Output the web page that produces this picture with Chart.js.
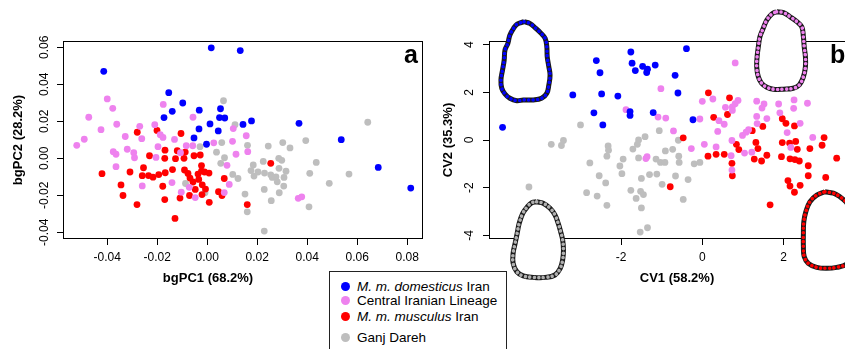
<!DOCTYPE html>
<html>
<head>
<meta charset="utf-8">
<script src="https://cdn.jsdelivr.net/npm/chart.js@4.4.1/dist/chart.umd.min.js"></script>
<style>
  html, body { margin: 0; padding: 0; background: #fff; }
  body {
    width: 845px; height: 349px; overflow: hidden; position: relative;
    font-family: 'Liberation Sans', Arial, sans-serif; color: #000;
  }
  canvas { position: absolute; top: 0; }
  #cvA { left: 0; }
  #cvB { left: 430px; }
  .xtitle {
    position: absolute; top: 270px; font-size: 13px; font-weight: bold;
    white-space: nowrap; transform: translateX(-50%); line-height: 15px;
  }
  .tag { position: absolute; top: 42px; font-size: 25px; font-weight: bold; line-height: 25px; }
  #legend {
    position: absolute; left: 329px; top: 271px; width: 176px; height: 100px;
    border: 1px solid #222; background: #fff; z-index: 2;
  }
  .item {
    position: absolute; left: 11px; height: 16px; display: flex; align-items: center;
    font-size: 13.5px; white-space: nowrap;
  }
  .dot { width: 9px; height: 9px; border-radius: 50%; margin-right: 7px; flex: none; }
</style>
</head>
<body>
<canvas id="cvA" width="430" height="300"></canvas>
<canvas id="cvB" width="425" height="300"></canvas>

<div class="xtitle" style="left:208px">bgPC1 (68.2%)</div>
<div class="xtitle" style="left:677px">CV1 (58.2%)</div>
<div class="tag" style="left:404px">a</div>
<div class="tag" style="left:830px">b</div>

<div id="legend">
  <div class="item" style="top:6px"><span class="dot" style="background:#0000ff"></span><span><i>M. m. domesticus</i> Iran</span></div>
  <div class="item" style="top:20.7px"><span class="dot" style="background:#ee82ee"></span><span>Central Iranian Lineage</span></div>
  <div class="item" style="top:36.7px"><span class="dot" style="background:#ff0000"></span><span><i>M. m. musculus</i> Iran</span></div>
  <div class="item" style="top:57.7px"><span class="dot" style="background:#bebebe"></span><span>Ganj Dareh</span></div>
</div>

<script>
// ── Groups ────────────────────────────────────────────────────
const groups  = ['M. m. domesticus Iran', 'Central Iranian Lineage', 'M. m. musculus Iran', 'Ganj Dareh'];
const colours = ['#0000ff', '#ee82ee', '#ff0000', '#bebebe'];

// ── Panel a: bgPCA scores [bgPC1, bgPC2] ──────────────────────
const bgDom = [
  [-0.0414,0.0470],[0.0016,0.0597],[0.0132,0.0582],[-0.0154,0.0355],[-0.0098,0.0299],[-0.0140,0.0254],
  [-0.0032,0.0260],[-0.0173,0.0220],[0.0053,0.0268],[0.0049,0.0220],[0.0070,0.0218],[0.0011,0.0186],
  [-0.0033,0.0159],[0.0044,0.0148],[0.0143,0.0183],[0.0177,0.0202],[-0.0053,0.0110],[-0.0003,0.0076],
  [0.0367,0.0189],[0.0536,0.0101],[0.0684,-0.0049],[0.0814,-0.0161]
];
const bgCil = [
  [-0.0400,0.0321],[-0.0378,0.0270],[-0.0474,0.0222],[-0.0362,0.0184],[-0.0425,0.0155],[-0.0492,0.0103],
  [-0.0522,0.0070],[-0.0328,0.0118],[-0.0270,0.0173],[-0.0262,0.0106],[-0.0176,0.0291],[-0.0057,0.0222],
  [-0.0210,0.0182],[-0.0177,0.0113],[-0.0188,0.0128],[-0.0131,0.0102],[-0.0084,0.0068],[-0.0058,0.0068],
  [0.0026,0.0084],[0.0101,0.0092],[0.0104,0.0161],[0.0156,0.0122],[-0.0320,0.0049],[-0.0294,0.0030],
  [-0.0291,0.0003],[-0.0376,0.0036],[-0.0365,0.0022],[-0.0365,-0.0045],[-0.0197,0.0063],[-0.0107,0.0030],
  [-0.0205,0.0005],[0.0115,0.0022],[0.0162,0.0036],[0.0079,-0.0038],[-0.0260,-0.0149],[-0.0141,-0.0131],
  [-0.0104,-0.0183],[-0.0072,-0.0157],[-0.0048,-0.0212],[0.0068,-0.0185],[0.0088,-0.0141],[0.0364,-0.0216],
  [0.0378,-0.0208]
];
const bgMus = [
  [-0.0280,0.0141],[-0.0201,0.0151],[-0.0105,0.0134],[-0.0169,0.0044],[-0.0120,0.0041],[-0.0088,0.0034],
  [-0.0231,0.0014],[-0.0170,0.0000],[-0.0127,-0.0002],[-0.0093,0.0000],[-0.0053,0.0014],[-0.0028,0.0018],
  [-0.0255,-0.0051],[-0.0309,-0.0074],[-0.0421,-0.0083],[-0.0260,-0.0094],[-0.0235,-0.0093],[-0.0217,-0.0102],
  [-0.0194,-0.0088],[-0.0168,-0.0078],[-0.0139,-0.0061],[-0.0091,-0.0063],[-0.0077,-0.0082],[-0.0023,-0.0039],
  [-0.0023,-0.0069],[-0.0011,-0.0074],[0.0007,-0.0080],[-0.0037,-0.0085],[-0.0069,-0.0107],[-0.0057,-0.0128],
  [-0.0034,-0.0114],[0.0068,-0.0109],[-0.0020,-0.0143],[-0.0007,-0.0166],[-0.0048,-0.0168],[-0.0178,-0.0151],
  [-0.0345,-0.0144],[0.0045,-0.0180],[-0.0337,-0.0201],[-0.0109,-0.0215],[-0.0071,-0.0201],[-0.0021,-0.0196],
  [0.0059,-0.0201],[-0.0170,-0.0223],[0.0008,-0.0238],[-0.0281,-0.0250],[0.0160,-0.0250],[-0.0129,-0.0325],
  [0.0254,-0.0027]
];
const bgGanj = [
  [0.0065,0.0311],[0.0111,0.0182],[0.0642,0.0195],[0.0058,0.0085],[0.0161,0.0070],[0.0244,0.0066],
  [0.0302,0.0085],[0.0331,0.0056],[0.0394,0.0096],[-0.0029,0.0063],[0.0037,0.0033],[0.0069,0.0003],
  [0.0054,-0.0027],[0.0184,-0.0036],[0.0224,-0.0017],[0.0286,0.0000],[0.0298,-0.0011],[0.0287,-0.0054],
  [0.0315,-0.0070],[0.0436,-0.0022],[0.0410,-0.0081],[0.0567,-0.0085],[0.0175,-0.0066],[0.0187,-0.0096],
  [0.0203,-0.0074],[0.0229,-0.0080],[0.0254,-0.0089],[0.0260,-0.0103],[0.0275,-0.0100],[0.0280,-0.0127],
  [0.0307,-0.0103],[0.0306,-0.0150],[0.0288,-0.0186],[0.0102,-0.0087],[0.0123,-0.0109],[0.0488,-0.0135],
  [-0.0087,-0.0136],[-0.0009,-0.0186],[0.0151,-0.0193],[0.0160,-0.0289],[0.0228,-0.0168],[0.0256,-0.0229],
  [0.0407,-0.0262],[0.0228,-0.0393]
];

// ── Panel b: CVA scores [CV1, CV2] ────────────────────────────
const cvDom = [
  [-4.92,0.53],[-3.19,1.89],[-2.61,3.33],[-2.52,2.82],[-2.48,1.93],[-2.67,1.14],[-2.45,0.63],[-2.08,1.84],
  [-1.78,1.19],[-1.78,1.03],[-1.76,3.69],[-1.73,3.22],[-1.65,2.91],[-1.47,3.09],[-1.35,2.97],[-1.37,2.83],
  [-1.16,3.14],[-1.21,1.15],[-0.39,3.83],[-0.67,2.71],[-0.60,1.97],[-0.23,0.85]
];
const cvCil = [
  [-1.88,1.27],[-1.02,2.15],[-1.09,0.96],[-0.90,0.92],[0.81,3.23],[-0.06,0.88],[-0.71,0.38],[-0.27,-0.36],
  [0.05,-0.18],[0.34,-0.29],[0.00,1.62],[0.26,1.72],[0.88,1.66],[0.57,1.37],[0.74,1.39],[0.81,1.52],
  [0.74,1.24],[0.41,0.81],[0.54,0.66],[0.38,0.36],[0.73,-0.02],[0.99,0.19],[1.08,0.33],[1.14,0.43],
  [1.34,1.63],[1.52,1.51],[1.47,1.34],[1.88,1.51],[2.26,1.68],[2.59,1.54],[2.25,1.33],[1.91,1.14],
  [1.34,0.99],[1.59,0.90],[1.35,0.69],[2.09,0.31],[2.41,0.70],[2.18,-0.31],[2.72,0.11],[-1.36,-0.70],
  [-1.39,-0.78],[0.71,-0.66],[0.73,-1.26],[1.04,-0.55],[1.22,-0.51]
];
const cvMus = [
  [0.15,1.98],[0.67,1.77],[0.62,1.07],[0.28,0.95],[-0.47,0.09],[-0.79,-1.96],[0.14,-0.68],[0.34,-0.60],
  [0.54,-0.60],[0.73,-0.98],[0.74,-1.50],[0.84,-0.18],[0.90,-0.40],[1.28,-0.80],[1.46,-0.88],[1.59,-0.64],
  [1.32,-0.10],[1.37,-0.36],[1.23,0.39],[1.49,0.57],[1.97,0.89],[2.06,0.70],[2.27,0.59],[1.97,-0.11],
  [2.15,-0.13],[2.30,-0.06],[2.34,-0.39],[2.65,-0.36],[2.95,-0.22],[3.00,0.10],[1.95,-0.70],[2.16,-0.79],
  [2.28,-0.82],[2.39,-0.88],[2.61,-1.08],[2.61,-1.50],[3.04,-1.57],[3.31,-0.76],[2.11,-1.70],[2.16,-1.93],
  [2.27,-2.19],[2.41,-1.90],[1.67,-2.72]
];
const cvGanj = [
  [-3.00,0.63],[-3.72,-0.18],[-3.47,-0.23],[-3.42,-0.02],[-4.27,-1.97],[-1.41,0.14],[-1.57,0.00],[-1.60,-0.18],
  [-1.71,-0.38],[-2.32,-0.25],[-2.31,-0.43],[-2.35,-0.68],[-1.95,-0.80],[-1.57,-0.75],[-0.91,-0.46],[-1.03,-0.94],
  [-0.92,-0.94],[-2.77,-0.96],[-2.03,-1.09],[-1.98,-1.41],[-2.54,-1.50],[-2.38,-1.80],[-1.50,-1.61],[-1.30,-1.45],
  [-1.12,-1.43],[-0.99,-1.86],[-2.85,-2.21],[-2.59,-2.35],[-1.76,-2.11],[-1.52,-2.15],[-1.45,-2.29],[-1.63,-2.45],
  [-2.35,-2.74],[-1.50,-2.85],[-1.53,-3.86],[-1.35,-3.68],[-1.06,0.39],[-0.59,-0.01],[-0.73,-0.39],[-0.57,-0.94],
  [-0.58,-0.68],[-0.20,-1.00],[-0.06,-0.94],[-0.66,-1.51],[-0.35,-1.66],[-0.47,-2.49],[-1.14,-0.80]
];

// ── Panel b: mean molar outlines, placed in CV space ──────────
const shapeDom = [
  [-4.39,4.96],[-4.25,4.89],[-4.10,4.68],[-3.97,4.47],[-3.87,4.26],[-3.83,3.91],[-3.82,3.49],[-3.78,3.07],
  [-3.75,2.73],[-3.78,2.31],[-3.83,1.96],[-3.96,1.75],[-4.16,1.68],[-4.41,1.68],[-4.57,1.65],[-4.74,1.75],
  [-4.86,1.93],[-4.94,2.17],[-4.96,2.52],[-4.92,2.94],[-4.88,3.35],[-4.86,3.77],[-4.79,4.05],[-4.74,4.40],
  [-4.65,4.68],[-4.56,4.86],[-4.39,4.96]
];
const shapeCil = [
  [1.83,5.38],[2.00,5.34],[2.16,5.17],[2.33,4.96],[2.45,4.75],[2.49,4.33],[2.51,3.91],[2.54,3.49],
  [2.54,3.07],[2.49,2.65],[2.39,2.31],[2.24,2.17],[2.00,2.13],[1.75,2.13],[1.59,2.21],[1.46,2.38],
  [1.38,2.65],[1.34,3.07],[1.35,3.49],[1.38,3.91],[1.42,4.33],[1.50,4.68],[1.59,5.03],[1.71,5.28],
  [1.83,5.38]
];
const shapeMus = [
  [3.02,-2.17],[3.23,-2.23],[3.39,-2.38],[3.54,-2.60],[3.64,-2.89],[3.71,-3.35],[3.76,-3.86],[3.76,-4.40],
  [3.71,-4.86],[3.56,-5.20],[3.31,-5.34],[3.06,-5.38],[2.82,-5.34],[2.61,-5.17],[2.51,-4.89],[2.49,-4.47],
  [2.49,-3.91],[2.50,-3.43],[2.55,-3.01],[2.65,-2.59],[2.82,-2.31],[3.02,-2.17]
];
const shapeGanj = [
  [-4.08,-2.59],[-3.92,-2.65],[-3.75,-2.86],[-3.63,-3.14],[-3.55,-3.49],[-3.49,-3.84],[-3.44,-4.19],[-3.42,-4.61],
  [-3.44,-5.03],[-3.50,-5.38],[-3.63,-5.66],[-3.87,-5.76],[-4.16,-5.76],[-4.41,-5.70],[-4.57,-5.52],[-4.66,-5.17],
  [-4.66,-4.75],[-4.61,-4.33],[-4.56,-3.91],[-4.51,-3.49],[-4.42,-3.07],[-4.31,-2.80],[-4.20,-2.63],[-4.08,-2.59]
];

// ── Axis ticks ────────────────────────────────────────────────
const bgTicksX = [-0.04, -0.02, 0, 0.02, 0.04, 0.06, 0.08];
const bgTicksY = [-0.04, -0.02, 0, 0.02, 0.04, 0.06];
const cvTicksX = [-4, -2, 0, 2];
const cvTicksY = [-4, -2, 0, 2, 4];

// ── Shared styling ────────────────────────────────────────────
const FONT = "'Liberation Sans', Arial, sans-serif";
const tickFont  = { family: FONT, size: 12 };
const titleFont = { family: FONT, size: 13, weight: 'bold' };

// R style box round the plotting region
const framePlugin = {
  id: 'frame',
  beforeDatasetsDraw(chart) {
    const { ctx, chartArea: a } = chart;
    ctx.save();
    ctx.strokeStyle = '#000';
    ctx.lineWidth = 1;
    ctx.strokeRect(a.left + 0.5, a.top + 0.5, a.right - a.left - 1, a.bottom - a.top - 1);
    ctx.restore();
  }
};

// outlines sit on a white patch that hides the box and axis under them
const outlinePatch = {
  id: 'outlinePatch',
  beforeDatasetDraw(chart, args) {
    const ds = chart.data.datasets[args.index];
    if (!ds.whitePatch) return;
    const ctx = chart.ctx;
    ctx.save();
    ctx.beginPath();
    args.meta.data.forEach((p, i) => i ? ctx.lineTo(p.x, p.y) : ctx.moveTo(p.x, p.y));
    ctx.closePath();
    ctx.fillStyle = '#fff';
    ctx.fill();
    ctx.restore();
  }
};

function scoreSets(lists) {
  return lists.map((pts, i) => ({
    label:           groups[i],
    data:            pts.map(([x, y]) => ({ x, y })),
    backgroundColor: colours[i],
    borderWidth:     0,
    pointRadius:     3.4,
    order:           i
  }));
}

// each outline: a dark ring, then a chain of coloured dots on it
function outlineSets(shape, colour) {
  const data = shape.map(([x, y]) => ({ x, y }));
  const common = {
    data, showLine: true, pointRadius: 0, tension: 0.4,
    capBezierPoints: false, clip: false, fill: false
  };
  return [
    { ...common, label: '', borderColor: '#1a1a1a', borderWidth: 5, whitePatch: true, order: -1 },
    { ...common, label: '', borderColor: colour, borderWidth: 3.6,
      borderCapStyle: 'round', borderDash: [0.01, 4.5], order: -2 }
  ];
}

function axes(o) {
  return {
    x: {
      type: 'linear', min: o.xMin, max: o.xMax,
      afterBuildTicks: s => { s.ticks = o.xTicks.map(v => ({ value: v })); },
      afterFit: s => { s.height = 61; },
      grid:   { drawOnChartArea: false, tickLength: 6, tickColor: '#000', tickWidth: 1 },
      border: { display: false },
      ticks:  { color: '#000', font: tickFont, padding: 5, maxRotation: 0, callback: o.fmt }
    },
    y: {
      type: 'linear', min: o.yMin, max: o.yMax,
      afterBuildTicks: s => { s.ticks = o.yTicks.map(v => ({ value: v })); },
      afterFit: s => { s.width = o.yWidth; },
      grid:   { drawOnChartArea: false, tickLength: 6, tickColor: '#000', tickWidth: 1 },
      border: { display: false },
      ticks:  { color: '#000', font: tickFont, padding: o.yPad, minRotation: 90, maxRotation: 90,
                crossAlign: 'center', callback: o.fmt },
      title:  { display: true, text: o.yTitle, color: '#000', font: titleFont, padding: { top: 11, bottom: 0 } }
    }
  };
}

const baseOptions = {
  responsive: false,
  animation:  false,
  events:     [],
  devicePixelRatio: 1,
  plugins: { legend: { display: false }, tooltip: { enabled: false } }
};

// ── Panel a ───────────────────────────────────────────────────
new Chart(document.getElementById('cvA').getContext('2d'), {
  type: 'scatter',
  data: { datasets: scoreSets([bgDom, bgCil, bgMus, bgGanj]) },
  options: {
    ...baseOptions,
    layout: { padding: { left: 0, top: 41, right: 7, bottom: 0 } },
    scales: axes({
      xMin: -0.0577, xMax: 0.0863, yMin: -0.0436, yMax: 0.0634,
      xTicks: bgTicksX, yTicks: bgTicksY, yWidth: 63, yPad: -1,
      yTitle: 'bgPC2 (28.2%)', fmt: v => v.toFixed(2)
    })
  },
  plugins: [framePlugin]
});

// ── Panel b ───────────────────────────────────────────────────
new Chart(document.getElementById('cvB').getContext('2d'), {
  type: 'scatter',
  data: {
    datasets: [
      ...scoreSets([cvDom, cvCil, cvMus, cvGanj]),
      ...outlineSets(shapeDom,  colours[0]),
      ...outlineSets(shapeCil,  colours[1]),
      ...outlineSets(shapeMus,  colours[2]),
      ...outlineSets(shapeGanj, '#b0b0b0')
    ]
  },
  options: {
    ...baseOptions,
    layout: { padding: { left: 0, top: 41, right: 5, bottom: 0 } },
    scales: axes({
      xMin: -5.254, xMax: 3.638, yMin: -4.151, yMax: 4.151,
      xTicks: cvTicksX, yTicks: cvTicksY, yWidth: 59, yPad: 8,
      yTitle: 'CV2 (35.3%)', fmt: v => String(v)
    })
  },
  plugins: [framePlugin, outlinePatch]
});
</script>
</body>
</html>
